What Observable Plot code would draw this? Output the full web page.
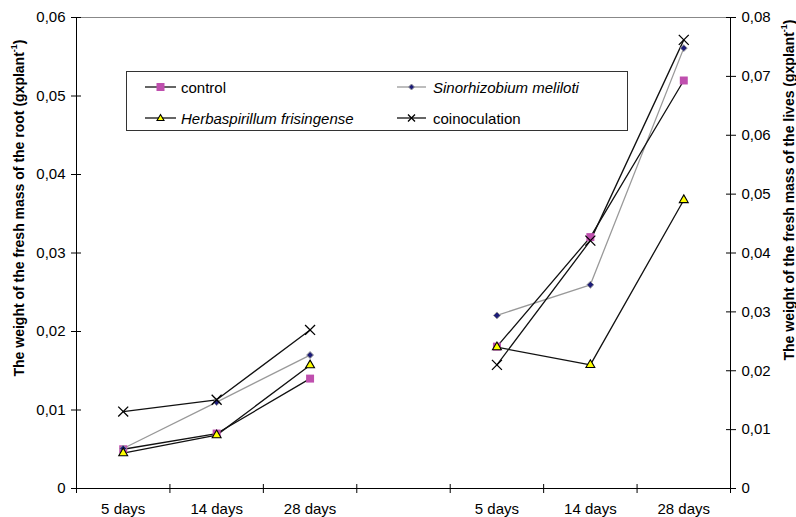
<!DOCTYPE html>
<html>
<head>
<meta charset="utf-8">
<script src="https://cdn.jsdelivr.net/npm/d3@7"></script>
<script src="https://cdn.jsdelivr.net/npm/@observablehq/plot@0.6"></script>
<style>
  html, body { margin: 0; padding: 0; background: #fff; }
  #wrap { position: relative; width: 796px; height: 517px; font-family: "Liberation Sans", Arial, sans-serif; }
  #legend { position: absolute; left: 126px; top: 71px; width: 502px; height: 60px; border: 1px solid #333; background: #fff; box-sizing: border-box; font-size: 15px; color: #000; }
  #legend .item { position: absolute; display: flex; align-items: center; height: 20px; }
  #legend svg { display: block; margin-right: 4px; }
  #legend i { font-style: italic; }
</style>
</head>
<body>
<div id="wrap"></div>
<script>
// ---- data ----
const categories = ["5 days", "14 days", "28 days", "", "5 days", "14 days", "28 days"];
const seriesNames = ["control", "Sinorhizobium meliloti", "Herbaspirillum frisingense", "coinoculation"];
// root fresh mass (left axis), g/plant, at 5, 14, 28 days
const rootControl = [0.0050, 0.0070, 0.0140];
const rootSino    = [0.0051, 0.0110, 0.0170];
const rootHerba   = [0.0045, 0.0068, 0.0157];
const rootCoin    = [0.0098, 0.0113, 0.0202];
// leaves fresh mass (right axis), g/plant, at 5, 14, 28 days
const leafControl = [0.0241, 0.0427, 0.0693];
const leafSino    = [0.0294, 0.0346, 0.0748];
const leafHerba   = [0.0240, 0.0210, 0.0490];
const leafCoin    = [0.0210, 0.0421, 0.0762];
const leftTicks  = [0, 0.01, 0.02, 0.03, 0.04, 0.05, 0.06];
const rightTicks = [0, 0.01, 0.02, 0.03, 0.04, 0.05, 0.06, 0.07, 0.08];
const leftMax = 0.06, rightMax = 0.08;
const k = leftMax / rightMax; // right axis -> left axis units

const rootSeries = [rootControl, rootSino, rootHerba, rootCoin];
const leafSeries = [leafControl, leafSino, leafHerba, leafCoin];

const rows = [];
seriesNames.forEach((s, si) => {
  rootSeries[si].forEach((v, i) => rows.push({series: s, group: "root", xi: i + 0.5, y: v}));
  leafSeries[si].forEach((v, i) => rows.push({series: s, group: "leaf", xi: i + 4.5, y: v * k}));
});
const of = s => rows.filter(d => d.series === s);

const fmt = v => (Math.abs(v) < 1e-9 ? "0" : d3.format(".2f")(v).replace(".", ","));
const catIdx = d3.range(categories.length);
const FS = 15;

const plot = Plot.plot({
  width: 796,
  height: 517,
  marginLeft: 76,
  marginRight: 66,
  marginTop: 17,
  marginBottom: 29,
  style: {fontFamily: "Liberation Sans, Arial, sans-serif", fontSize: FS + "px", color: "#000", background: "#fff"},
  x: {type: "linear", domain: [0, categories.length]},
  y: {domain: [0, leftMax]},
  marks: [
    // plot frame: top border and axis lines
    Plot.ruleY([leftMax], {stroke: "#888", strokeWidth: 1}),
    Plot.ruleY([0], {stroke: "#000", strokeWidth: 1}),
    Plot.ruleX([0], {stroke: "#000", strokeWidth: 1}),
    Plot.ruleX([categories.length], {stroke: "#000", strokeWidth: 1}),
    // left axis
    Plot.axisY({anchor: "left", ticks: leftTicks, tickFormat: fmt, tickSize: 5, tickPadding: 6, label: null, stroke: "#000"}),
    Plot.axisY({anchor: "left", ticks: leftTicks, tickFormat: () => "", tickSize: -5, label: null, stroke: "#000"}),
    // right axis
    Plot.axisY({anchor: "right", ticks: rightTicks.map(v => v * k), tickFormat: d => fmt(d / k), tickSize: 5, tickPadding: 6, label: null, stroke: "#000"}),
    Plot.axisY({anchor: "right", ticks: rightTicks.map(v => v * k), tickFormat: () => "", tickSize: -5, label: null, stroke: "#000"}),
    // x axis: boundary ticks + centered labels
    Plot.axisX({ticks: d3.range(categories.length + 1), tickFormat: () => "", tickSize: 5, label: null, stroke: "#000"}),
    Plot.axisX({ticks: d3.range(categories.length + 1), tickFormat: () => "", tickSize: -4, label: null, stroke: "#000"}),
    Plot.axisX({ticks: catIdx.map(i => i + 0.5), tickFormat: d => categories[Math.floor(d)], tickSize: 0, tickPadding: 15, label: null}),
    // lines
    Plot.line(of("Sinorhizobium meliloti"), {x: "xi", y: "y", z: "group", stroke: "#999", strokeWidth: 1.3}),
    Plot.line(of("control"), {x: "xi", y: "y", z: "group", stroke: "#111", strokeWidth: 1.3}),
    Plot.line(of("Herbaspirillum frisingense"), {x: "xi", y: "y", z: "group", stroke: "#111", strokeWidth: 1.3}),
    Plot.line(of("coinoculation"), {x: "xi", y: "y", z: "group", stroke: "#111", strokeWidth: 1.3}),
    // markers
    Plot.dot(of("control"), {x: "xi", y: "y", symbol: "square", r: 4.5, fill: "#BF4FAE", stroke: "none"}),
    Plot.dot(of("Sinorhizobium meliloti"), {x: "xi", y: "y", symbol: "diamond2", r: 3.1, fill: "#1C1C78", stroke: "#999", strokeWidth: 1}),
    Plot.dot(of("Herbaspirillum frisingense"), {x: "xi", y: "y", symbol: "triangle", r: 3.3, fill: "#FFFF00", stroke: "#000", strokeWidth: 1.1}),
    Plot.dot(of("coinoculation"), {x: "xi", y: "y", symbol: "times", r: 4.6, fill: "none", stroke: "#000", strokeWidth: 1.3})
  ]
});

const wrap = document.getElementById("wrap");
wrap.appendChild(plot);

// axis titles (rotated, with superscript)
const svgNS = "http://www.w3.org/2000/svg";
function addTitle(x, y, main) {
  const t = document.createElementNS(svgNS, "text");
  t.setAttribute("transform", `translate(${x},${y}) rotate(-90)`);
  t.setAttribute("text-anchor", "middle");
  t.setAttribute("dominant-baseline", "central");
  t.setAttribute("font-weight", "bold");
  t.setAttribute("font-size", "14px");
  t.setAttribute("font-family", "Liberation Sans, Arial, sans-serif");
  t.setAttribute("fill", "#000");
  const a = document.createElementNS(svgNS, "tspan"); a.textContent = main + " (gxplant";
  const b = document.createElementNS(svgNS, "tspan"); b.textContent = "-1"; b.setAttribute("font-size", "9px"); b.setAttribute("dy", "-5");
  const c = document.createElementNS(svgNS, "tspan"); c.textContent = ")"; c.setAttribute("dy", "5");
  t.append(a, b, c);
  plot.appendChild(t);
}
addTitle(19, 208, "The weight of the fresh mass of the root");
addTitle(789, 190, "The weight of the fresh mass of the lives");

// legend (HTML overlay)
const legend = document.createElement("div");
legend.id = "legend";
const sw = {
  "control": `<line x1="0" y1="8" x2="31" y2="8" stroke="#111" stroke-width="1.3"/><rect x="11.5" y="4" width="8" height="8" fill="#BF4FAE"/>`,
  "Sinorhizobium meliloti": `<line x1="0" y1="8" x2="29" y2="8" stroke="#999" stroke-width="1.3"/><path d="M14.5,5L17.5,8L14.5,11L11.5,8Z" fill="#1C1C78" stroke="#999"/>`,
  "Herbaspirillum frisingense": `<line x1="0" y1="8" x2="31" y2="8" stroke="#111" stroke-width="1.3"/><path d="M15.5,4.5L19,10.5H12Z" fill="#FFFF00" stroke="#000" stroke-width="1.1"/>`,
  "coinoculation": `<line x1="0" y1="8" x2="29" y2="8" stroke="#111" stroke-width="1.3"/><path d="M11,4.5L18,11.5M18,4.5L11,11.5" stroke="#000" stroke-width="1.3"/>`
};
const pos = [[18, 5], [270, 5], [18, 36], [270, 36]];
seriesNames.forEach((s, i) => {
  const it = document.createElement("div");
  it.className = "item";
  it.style.left = pos[i][0] + "px";
  it.style.top = pos[i][1] + "px";
  const italic = s !== "control" && s !== "coinoculation";
  it.innerHTML = `<svg width="32" height="16">${sw[s]}</svg>` + (italic ? `<i>${s}</i>` : `<span>${s}</span>`);
  legend.appendChild(it);
});
wrap.appendChild(legend);
</script>
</body>
</html>
